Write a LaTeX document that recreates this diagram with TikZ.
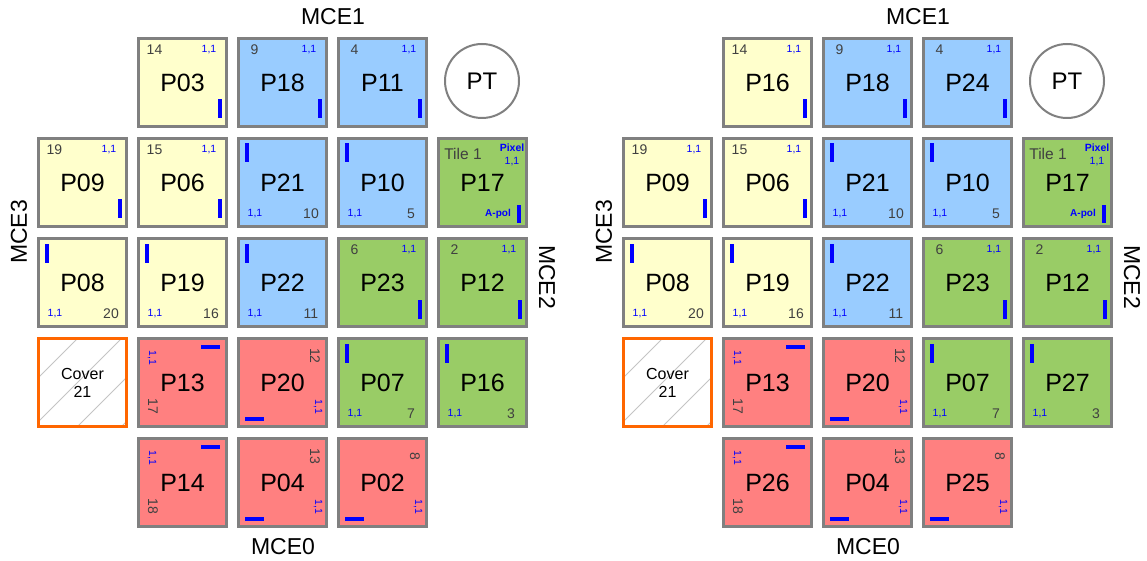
\documentclass[tikz,border=0pt]{standalone}
\usepackage{fontspec}
\setmainfont{Liberation Sans}
\definecolor{tileyellow}{HTML}{FFFFCC}
\definecolor{tileblue}{HTML}{99CCFF}
\definecolor{tilegreen}{HTML}{99CC66}
\definecolor{tilered}{HTML}{FF8080}
\definecolor{tilegray}{HTML}{808080}
\definecolor{numgray}{HTML}{404040}
\definecolor{coverorange}{HTML}{FF6600}
\definecolor{hatchgray}{HTML}{C4C4C4}
\tikzset{
	tile/.style={draw=tilegray, line width=3pt, minimum size=88pt, inner sep=0pt,
		font=\fontsize{25}{25}\selectfont},
	tilenum/.style={inner sep=0pt, text=numgray, font=\fontsize{14}{14}\selectfont},
	pixnum/.style={inner sep=0pt, text=blue, font=\fontsize{10.5}{10.5}\selectfont},
	polbar/.style={fill=blue},
	mcelabel/.style={inner sep=0pt, font=\fontsize{23}{23}\selectfont},
}

\begin{document}
\begin{tikzpicture}[x=1pt, y=-1pt]
\useasboundingbox (0,0) rectangle (1147,561);

\foreach \g/\ox/\pa/\pb/\pc/\pd/\pe in {L/0/P03/P11/P16/P14/P02, R/585/P16/P24/P27/P26/P25} {

% number top left, pixel top right, bar bottom right
\foreach \cc/\rr/\tname/\num/\col in {
	1/0/\pa/14/tileyellow, 2/0/P18/9/tileblue, 3/0/\pb/4/tileblue,
	0/1/P09/19/tileyellow, 1/1/P06/15/tileyellow,
	3/2/P23/6/tilegreen, 4/2/P12/2/tilegreen} {
	\node[tile, fill=\col] (\g-\tname) at (\ox+82.5+100*\cc, 82.5+100*\rr) {\tname};
	\node[tilenum] at ([shift={(-28,-32.5)}]\g-\tname.center) {\num};
	\node[pixnum] at ([shift={(26.5,-32.5)}]\g-\tname.center) {1,1};
	\fill[polbar] ([shift={(35.5,17)}]\g-\tname.center) rectangle ++(4,19);
}

% bar top left, pixel bottom left, number bottom right
\foreach \cc/\rr/\tname/\num/\col in {
	2/1/P21/10/tileblue, 3/1/P10/5/tileblue,
	0/2/P08/20/tileyellow, 1/2/P19/16/tileyellow, 2/2/P22/11/tileblue,
	3/3/P07/7/tilegreen, 4/3/\pc/3/tilegreen} {
	\node[tile, fill=\col] (\g-\tname) at (\ox+82.5+100*\cc, 82.5+100*\rr) {\tname};
	\node[pixnum] at ([shift={(-27.5,31.5)}]\g-\tname.center) {1,1};
	\node[tilenum] at ([shift={(28.5,31.5)}]\g-\tname.center) {\num};
	\fill[polbar] ([shift={(-37.5,-39)}]\g-\tname.center) rectangle ++(4,19);
}

% red, bar top right, pixel and number on the left
\foreach \cc/\rr/\tname/\num in {1/3/P13/17, 1/4/\pd/18} {
	\node[tile, fill=tilered] (\g-\tname) at (\ox+82.5+100*\cc, 82.5+100*\rr) {\tname};
	\node[pixnum, rotate=-90] at ([shift={(-30.5,-24.5)}]\g-\tname.center) {1,1};
	\node[tilenum, rotate=-90] at ([shift={(-29.5,23.5)}]\g-\tname.center) {\num};
	\fill[polbar] ([shift={(18.5,-37.5)}]\g-\tname.center) rectangle ++(19,4);
}

% red, number and pixel on the right, bar bottom left
\foreach \cc/\rr/\tname/\num in {2/3/P20/12, 2/4/P04/13, 3/4/\pe/8} {
	\node[tile, fill=tilered] (\g-\tname) at (\ox+82.5+100*\cc, 82.5+100*\rr) {\tname};
	\node[tilenum, rotate=-90] at ([shift={(32.5,-26.5)}]\g-\tname.center) {\num};
	\node[pixnum, rotate=-90] at ([shift={(35.5,24.5)}]\g-\tname.center) {1,1};
	\fill[polbar] ([shift={(-37.5,34.5)}]\g-\tname.center) rectangle ++(19,4);
}

% tile 1
\node[tile, fill=tilegreen] (\g-P17) at (\ox+482.5, 182.5) {P17};
\node[tilenum, font=\fontsize{15.5}{15.5}\selectfont] at ([shift={(-19.5,-28.5)}]\g-P17.center) {Tile 1};
\node[pixnum, font=\bfseries\fontsize{10.5}{10.5}\selectfont] at ([shift={(29.5,-34.5)}]\g-P17.center) {Pixel};
\node[pixnum] at ([shift={(29.5,-20.5)}]\g-P17.center) {1,1};
\node[pixnum, font=\bfseries\fontsize{10}{10}\selectfont] at ([shift={(15.5,31.5)}]\g-P17.center) {A-pol};
\fill[polbar] ([shift={(34.5,22.5)}]\g-P17.center) rectangle ++(4,18);

% cover
\node[tile, draw=coverorange, fill=white, align=center, font=\fontsize{16}{18}\selectfont,
	path picture={\foreach \h in {42,86,130,174}
		\draw[hatchgray, line width=0.8pt] ([shift={(\h-136.5,45.5)}]path picture bounding box.center) -- ++(91,-91);}]
	(\g-cover) at (\ox+82.5, 382.5) {Cover\\21};

% PT
\node[circle, draw=tilegray, line width=2pt, minimum size=74pt, inner sep=0pt,
	font=\fontsize{24}{24}\selectfont] (\g-pt) at (\ox+482, 81) {PT};

% MCE labels
\node[mcelabel] (\g-mce1) at (\ox+333, 17) {MCE1};
\node[mcelabel] (\g-mce0) at (\ox+283, 547) {MCE0};
\node[mcelabel, rotate=90] (\g-mce3) at (\ox+19, 232) {MCE3};
\node[mcelabel, rotate=-90] (\g-mce2) at (\ox+547, 277) {MCE2};
}

\end{tikzpicture}
\end{document}
